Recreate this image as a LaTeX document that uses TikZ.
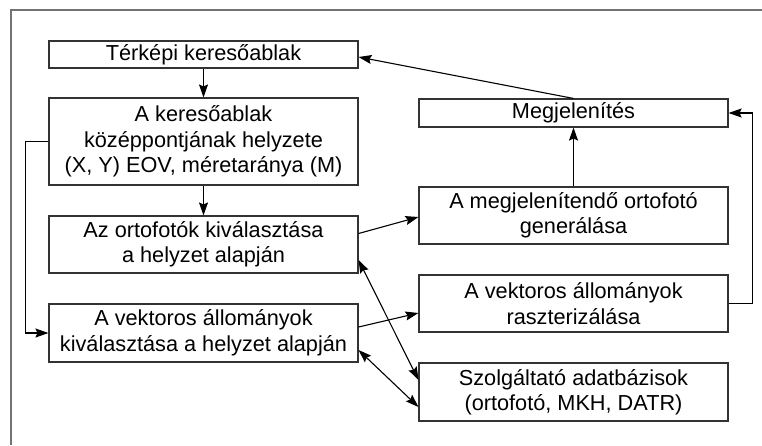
\documentclass[tikz,border=0pt]{standalone}
\usepackage{fontspec}
\setmainfont{Liberation Sans}
\usepackage{tikz}
\usetikzlibrary{arrows.meta,positioning,calc}

\begin{document}
\begin{tikzpicture}[
  x=1pt, y=-1pt,
  box/.style={draw=black!80, line width=1.1pt, minimum width=309pt, align=center, inner sep=2pt,
    font=\fontsize{21.7}{25.5}\selectfont},
  arr/.style={-{Stealth[length=13pt, width=9pt, inset=2pt]}, line width=1.1pt},
  darr/.style={{Stealth[length=13pt, width=9pt, inset=2pt]}-{Stealth[length=13pt, width=9pt, inset=2pt]}, line width=1.1pt},
  frame/.style={draw=black!55, line width=1.4pt},
]
\useasboundingbox (0,0) rectangle (762,445);

% ─── Outer frame (only top and left edges visible) ───
\draw[frame] (11,445) -- (11,10) -- (762,10);

% ─── Left column ───
\node[box, minimum height=27pt] (terkep) at (203.5, 54.5) {Térképi keresőablak};
\node[box, minimum height=87pt] (helyzet) at (203.5, 141.5) {A keresőablak\\középpontjának helyzete\\(X, Y) EOV, méretaránya (M)};
\node[box, minimum height=57pt] (orto) at (203.5, 244.5) {Az ortofotók kiválasztása\\a helyzet alapján};
\node[box, minimum height=58pt] (vektor) at (203.5, 333) {A vektoros állományok\\kiválasztása a helyzet alapján};

% ─── Right column ───
\node[box, minimum height=28pt] (megj) at (573.5, 113) {Megjelenítés};
\node[box, minimum height=57pt] (gen) at (573.5, 215.5) {A megjelenítendő ortofotó\\generálása};
\node[box, minimum height=57pt] (raszt) at (573.5, 303.5) {A vektoros állományok\\raszterizálása};
\node[box, minimum height=58pt] (db) at (573.5, 392) {Szolgáltató adatbázisok\\(ortofotó, MKH, DATR)};

% ─── Main flow ───
\draw[arr] (terkep) -- (helyzet);
\draw[arr] (helyzet) -- (orto);
\draw[arr] (helyzet.west) -- ++(-23,0) |- (vektor.west);
\draw[arr] ([yshift=11pt]orto.east) -- ([yshift=-1.5pt]gen.west);
\draw[arr] ([yshift=6pt]vektor.east) -- ([yshift=-9.5pt]raszt.west);

% ─── Towards the display ───
\draw[arr] (gen) -- (megj);
\draw[arr] (raszt.east) -- ++(24,0) |- (megj.east);
\draw[arr] (megj.north) -- ([yshift=-2.5pt]terkep.east);

% ─── Database links ───
\draw[darr] ([yshift=-15.5pt]orto.east) -- ([yshift=12pt]db.west);
\draw[darr] ([yshift=-17pt]vektor.east) -- ([yshift=-15pt]db.west);

\end{tikzpicture}
\end{document}
